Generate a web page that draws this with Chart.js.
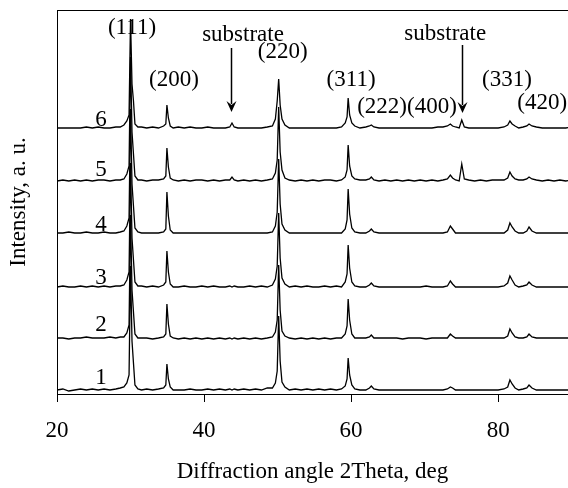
<!DOCTYPE html>
<html>
<head>
<meta charset="utf-8">
<script src="https://cdn.jsdelivr.net/npm/chart.js@4/dist/chart.umd.min.js"></script>
<style>
  html, body { margin: 0; padding: 0; background: #fff; }
  canvas { display: block; }
</style>
</head>
<body>
<canvas id="xrdChart" width="568" height="488"></canvas>
<script>
// ====== Data ======
// 2Theta grid, deg
const twoTheta = [
  20, 20.8, 21.6, 22.4, 23.2, 24, 24.8, 25.6, 26.4, 27.2,
  28, 28.6, 29.1, 29.5, 29.8, 30.0, 30.2, 30.4, 30.6, 31.0,
  31.5, 32.2, 33, 33.8, 34.5, 34.8, 34.95, 35.15, 35.4, 35.8,
  36.5, 37.3, 38.1, 38.9, 39.7, 40.5, 41.3, 42.1, 42.9, 43.5,
  43.8, 44.1, 44.6, 45.4, 46.2, 47, 47.8, 48.6, 49.3, 49.7,
  49.95, 50.15, 50.35, 50.6, 51.0, 51.6, 52.4, 53.2, 54, 54.8,
  55.6, 56.4, 57.2, 58, 58.7, 59.2, 59.45, 59.6, 59.8, 60.1,
  60.5, 61.2, 62, 62.5, 62.75, 63.1, 63.8, 64.6, 65.4, 66.2,
  67, 67.8, 68.6, 69.4, 70.2, 71, 71.8, 72.5, 73.1, 73.5,
  73.8, 74.2, 74.7, 75.05, 75.4, 76, 76.8, 77.6, 78.4, 79.2,
  80, 80.8, 81.3, 81.6, 81.9, 82.3, 82.8, 83.4, 83.9, 84.2,
  84.6, 85.2, 86, 86.8, 87.6, 88.4, 89.2, 90
];

// intensity above each pattern's own baseline, a. u.
const pattern1 = [
  1, 2, 0, 1, 2, 1, 2, 1, 2, 1,
  2, 3, 4, 8, 16, 125, 50, 28, 6, 2,
  1, 2, 1, 2, 3, 6, 27, 12, 4, 1,
  1, 1, 2, 1, 1, 2, 1, 2, 1, 2,
  1, 2, 1, 2, 1, 2, 1, 3, 3, 8,
  20, 75, 30, 9, 4, 1, 2, 1, 2, 1,
  2, 1, 2, 1, 2, 5, 12, 33, 16, 6,
  2, 1, 1, 3, 5, 2, 1, 1, 1, 1,
  1, 1, 1, 1, 1, 1, 1, 1, 2, 4,
  3, 1, 1, 1, 1, 1, 1, 1, 1, 1,
  1, 2, 4, 11, 7, 3, 1, 2, 3, 6,
  3, 1, 1, 1, 1, 1, 1, 1
];
const pattern2 = [
  2, 2, 1, 2, 2, 3, 2, 2, 2, 3,
  2, 3, 3, 7, 15, 125, 50, 28, 6, 2,
  2, 2, 1, 2, 3, 6, 36, 16, 4, 2,
  1, 2, 1, 2, 1, 2, 1, 2, 1, 2,
  1, 2, 1, 2, 1, 2, 1, 2, 3, 8,
  20, 75, 30, 9, 4, 2, 1, 2, 1, 2,
  1, 2, 1, 2, 2, 6, 14, 41, 20, 6,
  2, 2, 2, 3, 5, 2, 2, 2, 2, 2,
  1, 2, 2, 2, 1, 2, 2, 2, 2, 6,
  4, 2, 2, 2, 2, 2, 2, 2, 2, 2,
  2, 2, 4, 11, 7, 3, 2, 2, 3, 6,
  3, 2, 2, 2, 2, 2, 2, 2
];
const pattern3 = [
  1, 2, 1, 1, 2, 1, 2, 1, 2, 1,
  2, 2, 3, 8, 16, 125, 50, 28, 6, 2,
  2, 1, 2, 1, 3, 6, 37, 16, 4, 1,
  1, 2, 1, 1, 2, 1, 2, 1, 1, 2,
  1, 2, 1, 1, 2, 1, 2, 1, 3, 9,
  22, 75, 30, 10, 4, 1, 2, 1, 2, 1,
  1, 2, 1, 2, 1, 6, 14, 43, 20, 6,
  2, 1, 1, 3, 5, 2, 1, 1, 1, 1,
  1, 1, 1, 1, 2, 1, 1, 1, 2, 7,
  4, 1, 1, 1, 1, 1, 1, 1, 1, 1,
  1, 2, 5, 12, 8, 3, 1, 2, 3, 6,
  3, 1, 1, 1, 1, 1, 1, 1
];
const pattern4 = [
  1, 1, 2, 1, 1, 2, 1, 1, 2, 1,
  1, 2, 3, 8, 16, 125, 50, 28, 6, 2,
  1, 1, 1, 1, 2, 5, 42, 18, 4, 1,
  1, 1, 1, 1, 1, 1, 1, 1, 1, 1,
  1, 1, 1, 1, 1, 1, 1, 1, 2, 8,
  22, 75, 30, 10, 4, 1, 1, 1, 1, 1,
  1, 1, 1, 1, 1, 5, 14, 45, 20, 6,
  2, 1, 1, 3, 5, 2, 1, 1, 1, 1,
  1, 1, 1, 1, 1, 1, 1, 1, 2, 8,
  5, 1, 1, 1, 1, 1, 1, 1, 1, 1,
  1, 1, 4, 11, 7, 3, 1, 1, 3, 7,
  3, 1, 1, 1, 1, 1, 1, 1
];
const pattern5 = [
  1, 2, 1, 2, 1, 2, 1, 2, 2, 1,
  2, 2, 3, 8, 16, 125, 50, 28, 6, 2,
  2, 1, 2, 2, 3, 6, 34, 15, 4, 2,
  1, 2, 1, 2, 2, 1, 2, 1, 2, 2,
  5, 2, 1, 2, 1, 2, 1, 2, 3, 9,
  22, 75, 30, 12, 4, 2, 1, 2, 1, 2,
  1, 2, 2, 1, 2, 5, 12, 37, 16, 6,
  3, 2, 2, 3, 5, 2, 1, 2, 1, 2,
  1, 2, 1, 2, 1, 2, 1, 2, 3, 7,
  4, 2, 1, 18, 3, 2, 1, 2, 1, 2,
  2, 2, 4, 10, 6, 3, 2, 2, 3, 5,
  3, 2, 1, 2, 1, 2, 1, 2
];
const pattern6 = [
  1, 1, 1, 1, 1, 2, 1, 2, 1, 1,
  2, 2, 4, 8, 14, 110, 45, 28, 5, 2,
  2, 1, 2, 1, 3, 5, 24, 11, 3, 1,
  2, 1, 2, 1, 1, 2, 1, 1, 1, 2,
  6, 2, 1, 1, 1, 1, 1, 2, 3, 10,
  28, 50, 24, 10, 4, 1, 1, 1, 1, 1,
  1, 1, 1, 1, 2, 6, 12, 31, 14, 6,
  3, 1, 2, 3, 4, 2, 1, 1, 1, 1,
  1, 1, 1, 1, 1, 1, 2, 2, 3, 5,
  3, 2, 1, 9, 2, 1, 1, 1, 1, 1,
  1, 2, 4, 8, 5, 3, 1, 2, 3, 5,
  3, 2, 1, 1, 1, 1, 1, 2
];

const patterns = [pattern1, pattern2, pattern3, pattern4, pattern5, pattern6];
const patternNames = ['1', '2', '3', '4', '5', '6'];
// vertical shift of each pattern in the stack, a. u.
const patternShift = [3, 54, 106, 160, 212, 265];
const xTicks = [20, 40, 60, 80];

// ====== Annotations (2Theta, a. u.) ======
const FONT = '"Liberation Serif", "Times New Roman", serif';
const peakNotes = [
  { text: '(111)', x: 30.2, y: 366 },
  { text: '(200)', x: 35.9, y: 314 },
  { text: 'substrate', x: 45.3, y: 359 },
  { text: '(220)', x: 50.7, y: 342 },
  { text: '(311)', x: 60.0, y: 314 },
  { text: '(222)(400)', x: 67.6, y: 287 },
  { text: 'substrate', x: 72.8, y: 360 },
  { text: '(331)', x: 81.2, y: 314 },
  { text: '(420)', x: 86.0, y: 291 }
];
const arrows = [
  { x: 43.7, from: 346, to: 282 },
  { x: 75.1, from: 349, to: 281 }
];
const nameX = 26.0;
const nameY = [16, 69, 116, 169, 224, 274];

const notesPlugin = {
  id: 'notes',
  afterDatasetsDraw(chart) {
    const ctx = chart.ctx;
    const xs = chart.scales.x;
    const ys = chart.scales.y;
    const area = chart.chartArea;
    ctx.save();

    // top frame line
    ctx.strokeStyle = '#000';
    ctx.lineWidth = 1;
    ctx.beginPath();
    ctx.moveTo(area.left, area.top + 0.5);
    ctx.lineTo(area.right, area.top + 0.5);
    ctx.stroke();

    ctx.fillStyle = '#000';
    ctx.font = '23px ' + FONT;
    ctx.textAlign = 'center';
    ctx.textBaseline = 'middle';
    peakNotes.forEach(n => {
      ctx.fillText(n.text, xs.getPixelForValue(n.x), ys.getPixelForValue(n.y));
    });
    patternNames.forEach((name, i) => {
      ctx.fillText(name, xs.getPixelForValue(nameX), ys.getPixelForValue(nameY[i]));
    });

    // arrows
    arrows.forEach(a => {
      const px = Math.round(xs.getPixelForValue(a.x)) + 0.5;
      const y0 = ys.getPixelForValue(a.from);
      const y1 = ys.getPixelForValue(a.to);
      ctx.lineWidth = 1.5;
      ctx.beginPath();
      ctx.moveTo(px, y0);
      ctx.lineTo(px, y1 - 8);
      ctx.stroke();
      ctx.beginPath();
      ctx.moveTo(px - 5, y1 - 11);
      ctx.lineTo(px, y1 - 7);
      ctx.lineTo(px + 5, y1 - 11);
      ctx.lineTo(px, y1);
      ctx.closePath();
      ctx.fill();
    });
    ctx.restore();
  }
};

// ====== Chart ======
const datasets = patterns.map((p, i) => ({
  label: patternNames[i],
  data: twoTheta.map((t, k) => ({ x: t, y: p[k] + patternShift[i] })),
  borderColor: '#000',
  borderWidth: 1.3,
  pointRadius: 0,
  tension: 0,
  fill: false
}));

new Chart(document.getElementById('xrdChart'), {
  type: 'line',
  data: { datasets },
  options: {
    responsive: false,
    animation: false,
    layout: { padding: { top: 10, right: 0, left: 0, bottom: 0 } },
    plugins: {
      legend: { display: false },
      tooltip: { enabled: false }
    },
    scales: {
      x: {
        type: 'linear',
        min: 20,
        max: 89.5,
        afterBuildTicks: scale => { scale.ticks = xTicks.map(v => ({ value: v })); },
        afterFit: scale => { scale.height = 94; },
        ticks: { color: '#000', font: { family: FONT, size: 23 }, padding: 15, maxRotation: 0 },
        grid: { drawOnChartArea: false, drawTicks: true, tickLength: 8, color: '#000' },
        border: { display: true, color: '#000', width: 1 },
        title: {
          display: true,
          text: 'Diffraction angle 2Theta, deg',
          color: '#000',
          font: { family: FONT, size: 23 },
          padding: { top: 0, bottom: 2 }
        }
      },
      y: {
        min: 0,
        max: 384,
        afterFit: scale => { scale.width = 57; },
        ticks: { display: false },
        grid: { drawOnChartArea: false, drawTicks: false },
        border: { display: true, color: '#000', width: 1 },
        title: {
          display: true,
          text: 'Intensity, a. u.',
          color: '#000',
          font: { family: FONT, size: 23 },
          padding: { top: 5, bottom: 0 }
        }
      }
    }
  },
  plugins: [notesPlugin]
});
</script>
</body>
</html>
